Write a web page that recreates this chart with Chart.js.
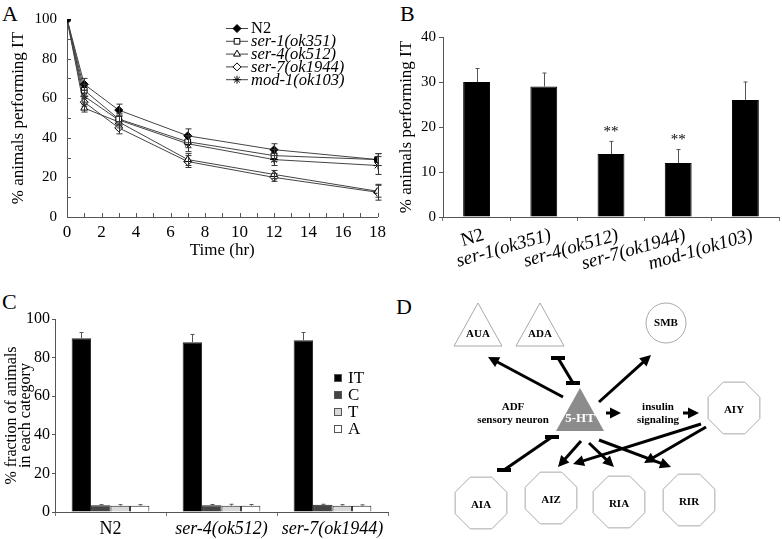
<!DOCTYPE html>
<html>
<head>
<meta charset="utf-8">
<script src="https://cdn.jsdelivr.net/npm/chart.js@4.4.0/dist/chart.umd.min.js"></script>
<style>
  body { margin: 0; background: #fff; width: 782px; height: 539px; position: relative; overflow: hidden; }
  canvas { position: absolute; }
  .tag { position: absolute; font: 22px 'Liberation Serif', serif; line-height: 22px; color: #000; }
</style>
</head>
<body>
<div class="tag" style="left:2px;top:3px">A</div>
<div class="tag" style="left:400px;top:3px">B</div>
<div class="tag" style="left:2px;top:291px">C</div>
<div class="tag" style="left:396px;top:296px">D</div>
<canvas id="chartA" width="391" height="270" style="left:0;top:0"></canvas>
<canvas id="chartC" width="391" height="269" style="left:0;top:270px"></canvas>
<canvas id="chartD" width="391" height="269" style="left:391px;top:270px"></canvas>
<canvas id="chartB" width="391" height="290" style="left:391px;top:0"></canvas>
<script>
// ---- panel A: time course ----
var hours = [0, 1, 3, 7, 12, 18];
var strainNames = ['N2', 'ser-1(ok351)', 'ser-4(ok512)', 'ser-7(ok1944)', 'mod-1(ok103)'];
var n2IT   = [100, 67, 54, 41, 34, 29];
var n2Err  = [0, 3, 3, 3.5, 3, 3];
var ser1IT = [100, 64, 49.5, 38, 31, 29];
var ser1Err = [0, 3, 3, 3, 3, 3];
var ser4IT = [100, 55, 48, 29, 21.5, 13];
var ser4Err = [0, 2, 3, 3, 2, 3];
var ser7IT = [100, 58, 45, 28, 20, 12.5];
var ser7Err = [0, 2, 3, 3, 2, 4];
var mod1IT = [100, 61, 49, 37, 29, 26];
var mod1Err = [0, 3, 3, 4, 3, 4.5];

// ---- panel B: IT at 18 hr ----
var bStrains = ['N2', 'ser-1(ok351)', 'ser-4(ok512)', 'ser-7(ok1944)', 'mod-1(ok103)'];
var bValues = [30, 29, 14, 12, 26];
var bErr = [3, 3, 2.8, 3, 4];
var bStars = ['', '', '**', '**', ''];

// ---- panel C: category fractions ----
var cStrains = ['N2', 'ser-4(ok512)', 'ser-7(ok1944)'];
var cCategories = ['IT', 'C', 'T', 'A'];
var itVals = [90, 88, 89];
var itErr = [3, 4, 4];
var cVals = [3.5, 3.5, 3.7];
var cErr = [0.3, 0.4, 0.3];
var tVals = [3.3, 3.3, 3.3];
var tErr = [0.5, 0.7, 0.5];
var aVals = [3.3, 3.3, 3.3];
var aErr = [0.5, 0.6, 0.4];

// ---- panel D: circuit diagram (diagram units) ----
var nodeNames = ['AUA', 'ADA', 'SMB', '5-HT', 'AIY', 'AIA', 'AIZ', 'RIA', 'RIR'];
var nodeX = [87, 149, 275, 189, 343, 90, 160, 228, 298];
var nodeY = [60, 60, 53, 145, 138, 233, 228, 232, 230];
var nodeShape = ['triangle', 'triangle', 'circle', 'hub', 'octagon', 'octagon', 'octagon', 'octagon', 'octagon'];
var edgeStart = [[172,127],[167,88],[208,132],[215,143],[292,143],[113,200],[190,171],[198,173],[208,170],[310,154],[315,157]];
var edgeEnd   = [[97,87],[182,113],[260,85],[230,143],[308,143],[161,167],[167,197],[223,197],[280,197],[182,194],[253,193]];
var edgeKind  = ['arrow','block','arrow','arrow','arrow','block','arrow','arrow','arrow','arrow','arrow'];
var sideNotes = [['ADF', 'sensory neuron', 122, 137], ['insulin', 'signaling', 267, 137]];

Chart.defaults.font.family = "'Liberation Serif', 'Times New Roman', serif";
Chart.defaults.font.size = 15;
Chart.defaults.color = '#000';
Chart.defaults.animation = false;
Chart.defaults.plugins.legend.display = false;
Chart.defaults.plugins.tooltip.enabled = false;

var errorBars = {
  id: 'errorBars',
  afterDatasetsDraw: function(chart, args, opts) {
    var ctx = chart.ctx, ys = chart.scales.y;
    ctx.save();
    ctx.strokeStyle = opts.color || '#333';
    ctx.lineWidth = 1;
    chart.data.datasets.forEach(function(ds, di) {
      if (!ds.errors) return;
      var meta = chart.getDatasetMeta(di);
      meta.data.forEach(function(el, i) {
        var v = ds.data[i];
        v = (typeof v === 'object') ? v.y : v;
        var e = ds.errors[i];
        if (!e) return;
        var x = Math.round(el.x) + 0.5;
        var top = ys.getPixelForValue(v + e);
        var bot = opts.both ? ys.getPixelForValue(v - e) : ys.getPixelForValue(v);
        ctx.beginPath();
        ctx.moveTo(x, top); ctx.lineTo(x, bot);
        ctx.moveTo(x - opts.cap, top); ctx.lineTo(x + opts.cap, top);
        if (opts.both) { ctx.moveTo(x - opts.cap, bot); ctx.lineTo(x + opts.cap, bot); }
        ctx.stroke();
      });
    });
    ctx.restore();
  }
};

function fixSize(w, h) {
  return function(scale) {
    if (w) scale.width = w;
    if (h) scale.height = h;
  };
}

// ---------- A ----------
var insideTicks = {
  id: 'insideTicks',
  beforeDatasetsDraw: function(chart) {
    var ctx = chart.ctx, xs = chart.scales.x, ys = chart.scales.y;
    ctx.save();
    ctx.strokeStyle = '#555';
    ctx.lineWidth = 1;
    ctx.beginPath();
    xs.ticks.forEach(function(t) {
      var px = Math.round(xs.getPixelForValue(t.value)) + 0.5;
      ctx.moveTo(px, ys.bottom); ctx.lineTo(px, ys.bottom - 4);
    });
    ys.ticks.forEach(function(t) {
      var py = Math.round(ys.getPixelForValue(t.value)) + 0.5;
      ctx.moveTo(xs.left, py); ctx.lineTo(xs.left + 4, py);
    });
    ctx.stroke();
    ctx.restore();
  }
};

var lineLegend = {
  id: 'lineLegend',
  afterDraw: function(chart, args, opts) {
    var ctx = chart.ctx;
    ctx.save();
    chart.data.datasets.forEach(function(ds, i) {
      var y = opts.top + i * opts.step;
      ctx.strokeStyle = '#444';
      ctx.lineWidth = 1;
      ctx.beginPath();
      ctx.moveTo(opts.left, y + 0.5); ctx.lineTo(opts.left + 22, y + 0.5);
      ctx.stroke();
      ctx.fillStyle = ds.pointBackgroundColor;
      ctx.strokeStyle = '#000';
      Chart.helpers.drawPoint(ctx, { pointStyle: ds.pointStyle, radius: ds.pointRadius, rotation: 0, borderWidth: 1 }, opts.left + 11, y + 0.5);
      ctx.fillStyle = '#000';
      ctx.font = (i === 0 ? '' : 'italic ') + '16.5px "Liberation Serif", serif';
      ctx.textBaseline = 'middle';
      ctx.fillText(ds.label, opts.left + 25, y + 1);
    });
    ctx.restore();
  }
};

function xy(vals) {
  return vals.map(function(v, i) { return { x: hours[i], y: v }; });
}

var lineStyles = [
  { pointStyle: 'rectRot', fill: '#000', r: 4 },
  { pointStyle: 'rect', fill: '#fff', r: 4 },
  { pointStyle: 'triangle', fill: '#fff', r: 4 },
  { pointStyle: 'rectRot', fill: '#fff', r: 4 },
  { pointStyle: 'star', fill: '#fff', r: 4 }
];
var lineValues = [n2IT, ser1IT, ser4IT, ser7IT, mod1IT];
var lineErrors = [n2Err, ser1Err, ser4Err, ser7Err, mod1Err];

new Chart(document.getElementById('chartA'), {
  type: 'line',
  data: {
    datasets: strainNames.map(function(name, i) {
      return {
        label: name,
        data: xy(lineValues[i]),
        errors: lineErrors[i],
        borderColor: '#444',
        borderWidth: 1,
        tension: 0,
        pointStyle: lineStyles[i].pointStyle,
        pointRadius: lineStyles[i].r,
        pointBackgroundColor: lineStyles[i].fill,
        pointBorderColor: '#000',
        pointBorderWidth: 1
      };
    })
  },
  options: {
    responsive: false,
    layout: { padding: { top: 17, right: 12, bottom: 0, left: 0 } },
    scales: {
      x: {
        type: 'linear', min: 0, max: 18,
        afterFit: fixSize(0, 53),
        ticks: { stepSize: 1, autoSkip: false, maxRotation: 0, padding: 5, font: { size: 17 },
          callback: function(v) { return v % 2 === 0 ? v : ''; } },
        grid: { drawOnChartArea: false, drawTicks: false },
        border: { color: '#555' },
        title: { display: true, text: 'Time (hr)', font: { size: 17 }, padding: { top: 0, bottom: 9 } }
      },
      y: {
        min: 0, max: 100,
        afterFit: fixSize(67, 0),
        ticks: { stepSize: 10, autoSkip: false, padding: 10,
          callback: function(v) { return v % 20 === 0 ? v : ''; } },
        grid: { drawOnChartArea: false, drawTicks: false },
        border: { color: '#555' },
        title: { display: true, text: '% animals performing IT', font: { size: 17 }, padding: { top: 8, bottom: 0 } }
      }
    },
    plugins: {
      errorBars: { both: true, cap: 3, color: '#333' },
      lineLegend: { left: 226, top: 28, step: 12.8 }
    }
  },
  plugins: [insideTicks, errorBars, lineLegend]
});

// ---------- B ----------
var starLabels = {
  id: 'starLabels',
  afterDatasetsDraw: function(chart) {
    var ctx = chart.ctx, ys = chart.scales.y, meta = chart.getDatasetMeta(0);
    ctx.save();
    ctx.fillStyle = '#000';
    ctx.font = '15px "Liberation Serif", serif';
    ctx.textAlign = 'center';
    ctx.textBaseline = 'bottom';
    bStars.forEach(function(s, i) {
      if (!s) return;
      var top = ys.getPixelForValue(bValues[i] + bErr[i]);
      ctx.fillText(s, meta.data[i].x, top - 2);
    });
    ctx.restore();
  }
};

new Chart(document.getElementById('chartB'), {
  type: 'bar',
  data: {
    labels: bStrains,
    datasets: [{
      data: bValues,
      errors: bErr,
      backgroundColor: '#000',
      borderColor: '#000',
      borderWidth: 1,
      categoryPercentage: 0.4,
      barPercentage: 1
    }]
  },
  options: {
    responsive: false,
    layout: { padding: { top: 37, right: 3, bottom: 0, left: 0 } },
    scales: {
      x: {
        afterFit: fixSize(0, 73),
        ticks: { minRotation: 16, maxRotation: 16, autoSkip: false, padding: 3, labelOffset: 7,
          font: function(c) { return { size: 19, style: c.index === 0 ? 'normal' : 'italic' }; } },
        grid: { drawOnChartArea: false, drawTicks: true, tickLength: 4, color: '#777' },
        border: { color: '#555' }
      },
      y: {
        min: 0, max: 40,
        afterFit: fixSize(52, 0),
        ticks: { stepSize: 10, padding: 3 },
        grid: { drawOnChartArea: false, drawTicks: true, tickLength: 4, color: '#555' },
        border: { color: '#555' },
        title: { display: true, text: '% animals performing IT', font: { size: 17 }, padding: { top: 5, bottom: 0 } }
      }
    },
    plugins: { errorBars: { both: false, cap: 2, color: '#555' } }
  },
  plugins: [errorBars, starLabels]
});

// ---------- C ----------
var boxLegend = {
  id: 'boxLegend',
  afterDraw: function(chart, args, opts) {
    var ctx = chart.ctx;
    ctx.save();
    chart.data.datasets.forEach(function(ds, i) {
      var y = opts.top + i * opts.step;
      ctx.fillStyle = ds.backgroundColor;
      ctx.strokeStyle = '#555';
      ctx.lineWidth = 1;
      ctx.fillRect(opts.left, y - 4, 8, 8);
      ctx.strokeRect(opts.left + 0.5, y - 3.5, 7, 7);
      ctx.fillStyle = '#000';
      ctx.font = '17px "Liberation Serif", serif';
      ctx.textBaseline = 'middle';
      ctx.fillText(ds.label, opts.left + 14, y + 1);
    });
    ctx.restore();
  }
};

var catFill = ['#000', '#444', '#d9d9d9', '#fff'];
var catValues = [itVals, cVals, tVals, aVals];
var catErrors = [itErr, cErr, tErr, aErr];

new Chart(document.getElementById('chartC'), {
  type: 'bar',
  data: {
    labels: cStrains,
    datasets: cCategories.map(function(name, i) {
      return {
        label: name,
        data: catValues[i],
        errors: catErrors[i],
        backgroundColor: catFill[i],
        borderColor: '#222',
        borderWidth: 1,
        categoryPercentage: 0.7,
        barPercentage: 1
      };
    })
  },
  options: {
    responsive: false,
    layout: { padding: { top: 49, right: 3, bottom: 0, left: 0 } },
    scales: {
      x: {
        afterFit: fixSize(0, 27),
        ticks: { maxRotation: 0, autoSkip: false, padding: 2,
          font: function(c) { return { size: 18, style: c.index === 0 ? 'normal' : 'italic' }; } },
        grid: { drawOnChartArea: false, drawTicks: true, tickLength: 4, color: '#777' },
        border: { color: '#555' }
      },
      y: {
        min: 0, max: 100,
        afterFit: fixSize(55, 0),
        ticks: { stepSize: 20, padding: 2, font: { size: 16 } },
        grid: { drawOnChartArea: false, drawTicks: true, tickLength: 3, color: '#555' },
        border: { color: '#555' },
        title: { display: true, text: ['% fraction of animals', 'in each category'],
          font: { size: 16, lineHeight: 0.85 }, padding: { top: 5, bottom: 0 } }
      }
    },
    plugins: {
      errorBars: { both: false, cap: 2, color: '#555' },
      boxLegend: { left: 334, top: 108, step: 17 }
    }
  },
  plugins: [errorBars, boxLegend]
});

// ---------- D ----------
function drawArrowHead(ctx, x1, y1, x2, y2) {
  var a = Math.atan2(y2 - y1, x2 - x1);
  ctx.beginPath();
  ctx.moveTo(x2, y2);
  ctx.lineTo(x2 - 11 * Math.cos(a) + 5.5 * Math.sin(a), y2 - 11 * Math.sin(a) - 5.5 * Math.cos(a));
  ctx.lineTo(x2 - 11 * Math.cos(a) - 5.5 * Math.sin(a), y2 - 11 * Math.sin(a) + 5.5 * Math.cos(a));
  ctx.closePath();
  ctx.fill();
}

var circuit = {
  id: 'circuit',
  afterDatasetsDraw: function(chart) {
    var ctx = chart.ctx, xs = chart.scales.x, ys = chart.scales.y;
    var meta = chart.getDatasetMeta(0);
    ctx.save();
    // nodes
    meta.data.forEach(function(el, i) {
      var x = el.x, y = el.y, shape = nodeShape[i];
      ctx.lineWidth = 1;
      ctx.strokeStyle = '#a8a8a8';
      ctx.beginPath();
      if (shape === 'triangle' || shape === 'hub') {
        ctx.moveTo(x, y - 27);
        ctx.lineTo(x + 24, y + 16);
        ctx.lineTo(x - 24, y + 16);
        ctx.closePath();
      } else if (shape === 'circle') {
        ctx.arc(x, y, 20, 0, Math.PI * 2);
      } else {
        for (var k = 0; k < 8; k++) {
          var a = Math.PI / 8 + k * Math.PI / 4;
          var px = x + 28 * Math.cos(a), py = y + 28 * Math.sin(a);
          if (k === 0) ctx.moveTo(px, py); else ctx.lineTo(px, py);
        }
        ctx.closePath();
      }
      if (shape === 'hub') { ctx.fillStyle = '#8c8c8c'; ctx.fill(); }
      else ctx.stroke();
      ctx.fillStyle = shape === 'hub' ? '#fff' : '#000';
      ctx.font = 'bold ' + (shape === 'hub' ? 13 : 11) + 'px "Liberation Serif", serif';
      ctx.textAlign = 'center';
      ctx.textBaseline = 'middle';
      var dy = shape === 'octagon' ? 2 : (shape === 'circle' ? 0 : 4);
      ctx.fillText(nodeNames[i], x, y + dy);
    });
    // side notes
    ctx.font = 'bold 11px "Liberation Serif", serif';
    ctx.fillStyle = '#000';
    sideNotes.forEach(function(n) {
      ctx.fillText(n[0], xs.getPixelForValue(n[2]), ys.getPixelForValue(n[3]));
      ctx.fillText(n[1], xs.getPixelForValue(n[2]), ys.getPixelForValue(n[3]) + 13);
    });
    // edges
    ctx.strokeStyle = '#000';
    ctx.fillStyle = '#000';
    edgeKind.forEach(function(kind, i) {
      var x1 = xs.getPixelForValue(edgeStart[i][0]), y1 = ys.getPixelForValue(edgeStart[i][1]);
      var x2 = xs.getPixelForValue(edgeEnd[i][0]), y2 = ys.getPixelForValue(edgeEnd[i][1]);
      ctx.lineWidth = 3;
      ctx.beginPath();
      if (kind === 'arrow') {
        var a = Math.atan2(y2 - y1, x2 - x1);
        ctx.moveTo(x1, y1);
        ctx.lineTo(x2 - 9 * Math.cos(a), y2 - 9 * Math.sin(a));
        ctx.stroke();
        drawArrowHead(ctx, x1, y1, x2, y2);
      } else {
        ctx.moveTo(x1, y1);
        ctx.lineTo(x2, y2);
        ctx.stroke();
        ctx.fillRect(x1 - 7, y1 - 2, 14, 4);
        ctx.fillRect(x2 - 7, y2 - 2, 14, 4);
      }
    });
    ctx.restore();
  }
};

new Chart(document.getElementById('chartD'), {
  type: 'scatter',
  data: {
    datasets: [{
      data: nodeX.map(function(x, i) { return { x: x, y: nodeY[i] }; }),
      pointRadius: 0
    }]
  },
  options: {
    responsive: false,
    layout: { padding: 0 },
    scales: {
      x: { type: 'linear', min: 0, max: 391, display: false },
      y: { type: 'linear', min: 0, max: 269, reverse: true, display: false }
    }
  },
  plugins: [circuit]
});
</script>
</body>
</html>
